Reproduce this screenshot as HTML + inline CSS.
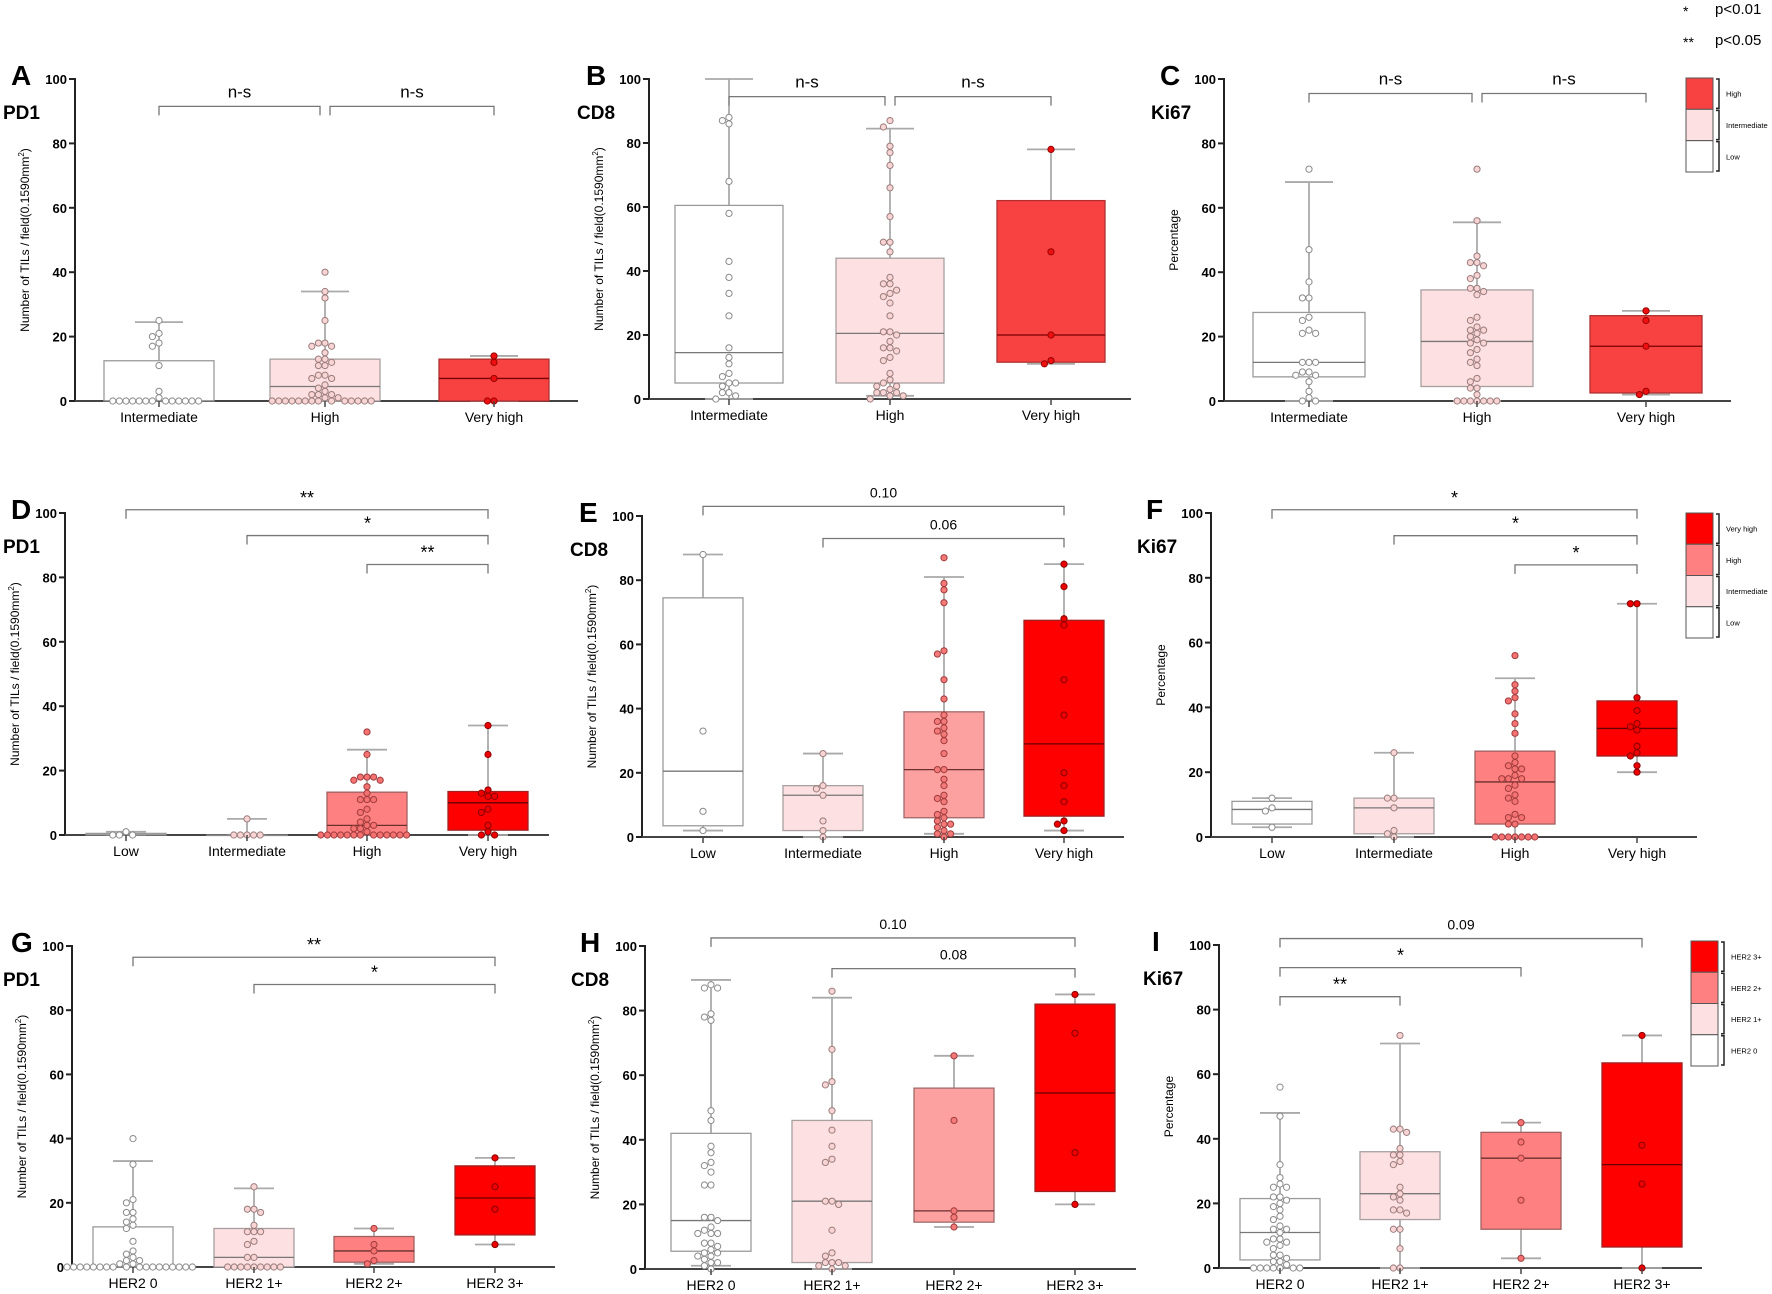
<!DOCTYPE html>
<html><head><meta charset="utf-8">
<style>
html,body{margin:0;padding:0;background:#fff;}
svg{display:block;font-family:"Liberation Sans",Arial,sans-serif;}
</style></head>
<body>
<svg id="fig" width="1772" height="1294" viewBox="0 0 1772 1294" xmlns="http://www.w3.org/2000/svg">
<g>
<text x="1683" y="16" font-size="14">*</text><text x="1715" y="14" font-size="15">p&lt;0.01</text>
<text x="1683" y="47" font-size="14">**</text><text x="1715" y="45" font-size="15">p&lt;0.05</text>
</g>
</svg>
<script>
// ---------- DATA ----------
const catsLevel3 = ["Intermediate","High","Very high"];
const catsLevel4 = ["Low","Intermediate","High","Very high"];
const catsHer2 = ["HER2 0","HER2 1+","HER2 2+","HER2 3+"];

const A_q1=[0,0,0], A_med=[0,4.5,7], A_q3=[12.5,13,13], A_lo=[0,0,0], A_hi=[24.5,34,14];
const A_pts=[[25,21,20,18,17,11,3,1,0,0,0,0,0,0,0,0,0,0,0,0,0],
[40,34,32,25,18,18,17,17,15,13,13,12,11,11,8,8,7,7,5,4,3,2,2,2,1,1,0,0,0,0,0,0,0,0,0,0,0,0,0,0],
[14,12,7,0,0]];
const A_brk=[[0,1,"n-s",91.5],[1,2,"n-s",91.5]];

const B_q1=[5,5,11.5], B_med=[14.5,20.5,20], B_q3=[60.5,44,62], B_lo=[0,1,11], B_hi=[100,84.5,78];
const B_pts=[[88,87,86,68,58,43,38,33,26,16,13,11,8,7,5,5,4,2,2,1,0],
[87,85,79,77,73,66,57,49,49,46,38,36,36,34,33,32,30,26,21,21,20,18,16,16,15,13,12,8,6,5,4,4,3,2,2,2,1,1,0],
[78,46,20,12,11]];
const B_brk=[[0,1,"n-s",94.5],[1,2,"n-s",94.5]];

const C_q1=[7.5,4.5,2.5], C_med=[12,18.5,17], C_q3=[27.5,34.5,26.5], C_lo=[0,0,2], C_hi=[68,55.5,28];
const C_pts=[[72,47,37,32,32,26,25,22,21,21,12,12,12,9,9,8,8,6,3,1,0,0],
[72,56,45,43,43,42,39,38,35,35,34,33,26,25,23,22,22,21,20,19,18,18,16,15,13,12,11,7,6,4,4,2,0,0,0,0,0,0,0],
[28,25,17,3,2]];
const C_brk=[[0,1,"n-s",95.5],[1,2,"n-s",95.5]];

const D_q1=[0,0,0,1.5], D_med=[0,0,3,10], D_q3=[0.5,0,13.3,13.5], D_lo=[0,0,0,0], D_hi=[1,5,26.5,34];
const D_pts=[[1,0,0,0],[5,0,0,0,0,0],
[32,25,18,18,18,17,17,15,13,11,11,11,8,7,5,4,3,3,2,2,1,0,0,0,0,0,0,0,0,0,0,0,0,0],
[34,25,14,13,12,12,8,7,3,1,0,0]];
const D_brk=[[0,3,"**",101],[1,3,"*",93],[2,3,"**",84]];

const E_q1=[3.5,2,6,6.5], E_med=[20.5,13,21,29], E_q3=[74.5,16,39,67.5], E_lo=[2,0,1,2], E_hi=[88,26,81,85];
const E_pts=[[88,33,8,2],[26,16,15,13,5,2,0],
[87,79,77,73,58,57,49,43,38,36,36,34,33,32,30,26,21,21,18,16,13,12,11,8,7,6,5,4,4,3,2,1,1,0],
[85,78,68,66,49,38,20,16,11,5,4,2]];
const E_brk=[[0,3,"0.10",103],[1,3,"0.06",93]];

const F_q1=[4,1,4,25], F_med=[8.5,9,17,33.5], F_q3=[11,12,26.5,42], F_lo=[3,0,0,20], F_hi=[12,26,49,72];
const F_pts=[[12,9,8,3],[26,12,12,9,2,1,0],
[56,47,45,43,42,38,35,32,25,23,22,21,21,19,18,18,18,16,15,13,12,11,7,6,6,4,4,0,0,0,0,0,0,0],
[72,72,43,39,35,34,33,28,26,25,22,20]];
const F_brk=[[0,3,"*",101],[1,3,"*",93],[2,3,"*",84]];

const G_q1=[0,0,1.5,10], G_med=[0,3,5,21.5], G_q3=[12.5,12,9.5,31.5], G_lo=[0,0,1,7], G_hi=[33,24.5,12,34];
const G_pts=[[40,32,21,20,17,17,15,14,13,12,8,5,4,3,2,2,1,1,0,0,0,0,0,0,0,0,0,0,0,0,0,0,0,0,0,0],
[25,18,18,17,13,11,11,11,8,7,3,3,0,0,0,0,0,0,0,0,0],[12,7,5,2,1],[34,25,18,7]];
const G_brk=[[0,3,"**",96.5],[1,3,"*",88]];

const H_q1=[5.5,2,14.5,24], H_med=[15,21,18,54.5], H_q3=[42,46,56,82], H_lo=[1,0,13,20], H_hi=[89.5,84,66,85];
const H_pts=[[88,87,87,79,78,77,49,46,38,36,33,32,30,26,26,16,16,15,13,12,11,11,11,8,8,7,6,5,5,4,4,3,2,2,1,0],
[86,68,58,57,49,43,38,34,33,21,21,20,12,5,4,2,2,2,1,1,0],[66,46,18,16,13],[85,73,36,20]];
const H_brk=[[0,3,"0.10",102.5],[1,3,"0.08",93]];

const I_q1=[2.5,15,12,6.5], I_med=[11,23,34,32], I_q3=[21.5,36,42,63.5], I_lo=[0,0,3,0], I_hi=[48,69.5,45,72];
const I_pts=[[56,47,32,28,26,25,25,22,22,21,20,19,18,16,15,13,12,12,11,9,9,8,8,7,6,4,4,3,2,2,1,0,0,0,0,0,0,0],
[72,43,43,42,37,35,35,33,32,25,23,22,21,18,18,17,12,12,6,0,0],[45,39,34,21,3],[72,38,26,0]];
const I_brk=[[0,3,"0.09",102],[0,2,"*",93],[0,1,"**",84]];

const legendLevel3=["High","Intermediate","Low"];
const legendLevel4=["Very high","High","Intermediate","Low"];
const legendHer2=["HER2 3+","HER2 2+","HER2 1+","HER2 0"];

// ---------- STYLE / LAYOUT ----------
const WHITE={f:"#ffffff",s:"#9a9a9a",pf:"#ffffff",ps:"#8a8a8a",m:"#777"};
const PINK={f:"#fde0e1",s:"#a8a0a0",pf:"#f9d4d4",ps:"#9a7c7c",m:"#777"};
const SAL={f:"#ff8080",s:"#a06060",pf:"#f47272",ps:"#a03c3c",m:"#6a3030"};
const SAL2={f:"#fda0a0",s:"#a06a6a",pf:"#f47a7a",ps:"#a03c3c",m:"#6a3030"};
const REDA={f:"#f84242",s:"#b03030",pf:"#ee1010",ps:"#900",m:"#700"};
const RED={f:"#ff0000",s:"#a02020",pf:"#ee0000",ps:"#800",m:"#600"};

const SVGNS="http://www.w3.org/2000/svg";
const svg=document.getElementById('fig');
function mk(tag,attrs,parent,text){const e=document.createElementNS(SVGNS,tag);for(const k in attrs)e.setAttribute(k,attrs[k]);if(text!==undefined)e.textContent=text;(parent||svg).appendChild(e);return e;}

function drawPanel(p){
  const g=mk('g',{});
  
  
  const y=v=>p.y0-(p.y0-p.y100)*v/100;
  const x=i=>p.cx[i];
  const ax=mk('line',{x1:p.ax,y1:p.y100-1,x2:p.ax,y2:p.y0,stroke:"#222","stroke-width":2},g);
  
  
  [0,20,40,60,80,100].forEach(t=>{
    mk('line',{x1:p.ax-6,y1:y(t),x2:p.ax,y2:y(t),stroke:"#222","stroke-width":2},g);
    const tl=mk('text',{x:p.ax-8,y:y(t)+5,"font-size":13,"font-weight":"bold","text-anchor":"end"},g,String(t));
    
    
  });
  const xa=mk('line',{x1:p.ax,y1:p.y0,x2:p.xend,y2:p.y0,stroke:"#444","stroke-width":2},g);
  
  
  const yt=mk('text',{x:0,y:0,"font-size":12,"text-anchor":"middle",transform:`translate(${p.ax-46},${(p.y0+p.y100)/2}) rotate(-90)`},g);
  
  
  if(p.ytitle==="tils"){yt.textContent="Number of TILs / field(0.1590mm";mk('tspan',{"font-size":8,dy:-5},yt,"2");mk('tspan',{dy:5},yt,")");}
  else yt.textContent="Percentage";
  const L=mk('text',{x:p.lx,y:p.y100+6,"font-size":28,"font-weight":"bold"},g,p.letter);
  
  
  const M=mk('text',{x:Math.max(3,p.lx-9),y:p.y100+40,"font-size":19,"font-weight":"bold"},g,p.marker);
  
  
  p.cats.forEach((c,i)=>{
    const st=p.styles[i];
    const bg=mk('g',{},g);
    
    
    mk('line',{x1:x(i),y1:y(p.hi[i]),x2:x(i),y2:y(p.lo[i]),stroke:"#8a8a8a","stroke-width":1.3},bg);
    mk('line',{x1:x(i)-p.cap,y1:y(p.hi[i]),x2:x(i)+p.cap,y2:y(p.hi[i]),stroke:"#aaa","stroke-width":1.8},bg);
    mk('line',{x1:x(i)-p.cap,y1:y(p.lo[i]),x2:x(i)+p.cap,y2:y(p.lo[i]),stroke:"#aaa","stroke-width":1.8},bg);
    mk('rect',{x:x(i)-p.hw,y:y(p.q3[i]),width:2*p.hw,height:Math.max(0.5,y(p.q1[i])-y(p.q3[i])),fill:st.f,stroke:st.s,"stroke-width":1.3},bg);
    mk('line',{x1:x(i)-p.hw,y1:y(p.med[i]),x2:x(i)+p.hw,y2:y(p.med[i]),stroke:st.m,"stroke-width":1.3},bg);
    const placed=[];const vals=p.pts[i].slice().sort((a,b)=>b-a);
    vals.forEach(v=>{
      const py=y(v);let k=0,px;
      while(true){const off=(k===0?0:(k%2?-1:1)*Math.ceil(k/2))*6.6;px=x(i)+off;
        if(placed.every(q=>Math.hypot(q[0]-px,q[1]-py)>=6.4))break;k++;}
      placed.push([px,py]);
      const dot=mk('circle',{cx:px,cy:py,r:3.1,fill:st.pf,stroke:st.ps,"stroke-width":1},bg);
      
      
    });
    mk('line',{x1:x(i),y1:p.y0,x2:x(i),y2:p.y0+6,stroke:"#444","stroke-width":1.5},g);
    const cl=mk('text',{x:x(i),y:p.y0+21,"font-size":14,"text-anchor":"middle"},g,c);
    
    
  });
  p.brk.forEach(b=>{
    const bg=mk('g',{},g);
    
    
    const x1=x(b[0])+(p.gap&&b[0]>0?5:0), x2=x(b[1])-(p.gap&&b[1]<p.cats.length-1?5:0);
    const by=y(b[3]);
    mk('path',{d:`M${x1},${by+9}V${by}H${x2}V${by+9}`,fill:"none",stroke:"#777","stroke-width":1.3},bg);
    const star=b[2].indexOf('*')===0;
    mk('text',{x:(x1+x2)/2,y:by-(star?6:9),"font-size":star?18:(b[2]==="n-s"?17:14),"text-anchor":"middle"},bg,b[2]);
  });
  if(p.legend){
    const lg=mk('g',{},g);
    
    
    const n=p.legend.length, h=p.lgH/n;
    p.legend.forEach((name,j)=>{
      const st=p.styles[p.styles.length-1-j];
      const yy=p.lgY+j*h;
      const ent=mk('g',{},lg);
      
      
      mk('rect',{x:p.lgX,y:yy,width:27,height:h,fill:st.f,stroke:"#555","stroke-width":1},ent);
      mk('path',{d:`M${p.lgX+30},${yy+1}h3v${h-2}h-3`,fill:"none",stroke:"#222","stroke-width":1.5},ent);
      mk('text',{x:p.lgX+40,y:yy+h/2+3,"font-size":7.5},ent,name);
    });
  }
}

const panels=[
 {letter:"A",lx:11,marker:"PD1",ytitle:"tils",cats:catsLevel3,ax:75,y100:79,y0:401,xend:578,cx:[159,325,494],hw:55,cap:24,styles:[WHITE,PINK,REDA],q1:A_q1,med:A_med,q3:A_q3,lo:A_lo,hi:A_hi,pts:A_pts,brk:A_brk,gap:true},
 {letter:"B",lx:586,marker:"CD8",ytitle:"tils",cats:catsLevel3,ax:649,y100:79,y0:399,xend:1131,cx:[729,890,1051],hw:54,cap:24,styles:[WHITE,PINK,REDA],q1:B_q1,med:B_med,q3:B_q3,lo:B_lo,hi:B_hi,pts:B_pts,brk:B_brk,gap:true},
 {letter:"C",lx:1160,marker:"Ki67",ytitle:"pct",cats:catsLevel3,ax:1224,y100:79,y0:401,xend:1731,cx:[1309,1477,1646],hw:56,cap:24,styles:[WHITE,PINK,REDA],q1:C_q1,med:C_med,q3:C_q3,lo:C_lo,hi:C_hi,pts:C_pts,brk:C_brk,gap:true,legend:legendLevel3,lgX:1686,lgY:78,lgH:94},
 {letter:"D",lx:11,marker:"PD1",ytitle:"tils",cats:catsLevel4,ax:65,y100:513,y0:835,xend:549,cx:[126,247,367,488],hw:40,cap:20,styles:[WHITE,PINK,SAL,RED],q1:D_q1,med:D_med,q3:D_q3,lo:D_lo,hi:D_hi,pts:D_pts,brk:D_brk},
 {letter:"E",lx:579,marker:"CD8",ytitle:"tils",cats:catsLevel4,ax:642,y100:516,y0:837,xend:1124,cx:[703,823,944,1064],hw:40,cap:20,styles:[WHITE,PINK,SAL2,RED],q1:E_q1,med:E_med,q3:E_q3,lo:E_lo,hi:E_hi,pts:E_pts,brk:E_brk},
 {letter:"F",lx:1146,marker:"Ki67",ytitle:"pct",cats:catsLevel4,ax:1211,y100:513,y0:837,xend:1697,cx:[1272,1394,1515,1637],hw:40,cap:20,styles:[WHITE,PINK,SAL,RED],q1:F_q1,med:F_med,q3:F_q3,lo:F_lo,hi:F_hi,pts:F_pts,brk:F_brk,legend:legendLevel4,lgX:1686,lgY:513,lgH:125},
 {letter:"G",lx:11,marker:"PD1",ytitle:"tils",cats:catsHer2,ax:72,y100:946,y0:1267,xend:555,cx:[133,254,374,495],hw:40,cap:20,styles:[WHITE,PINK,SAL,RED],q1:G_q1,med:G_med,q3:G_q3,lo:G_lo,hi:G_hi,pts:G_pts,brk:G_brk},
 {letter:"H",lx:580,marker:"CD8",ytitle:"tils",cats:catsHer2,ax:645,y100:946,y0:1269,xend:1136,cx:[711,832,954,1075],hw:40,cap:20,styles:[WHITE,PINK,SAL2,RED],q1:H_q1,med:H_med,q3:H_q3,lo:H_lo,hi:H_hi,pts:H_pts,brk:H_brk},
 {letter:"I",lx:1152,marker:"Ki67",ytitle:"pct",cats:catsHer2,ax:1219,y100:945,y0:1268,xend:1702,cx:[1280,1400,1521,1642],hw:40,cap:20,styles:[WHITE,PINK,SAL,RED],q1:I_q1,med:I_med,q3:I_q3,lo:I_lo,hi:I_hi,pts:I_pts,brk:I_brk,legend:legendHer2,lgX:1691,lgY:941,lgH:125}
];
panels.forEach(drawPanel);
</script>
</body></html>
